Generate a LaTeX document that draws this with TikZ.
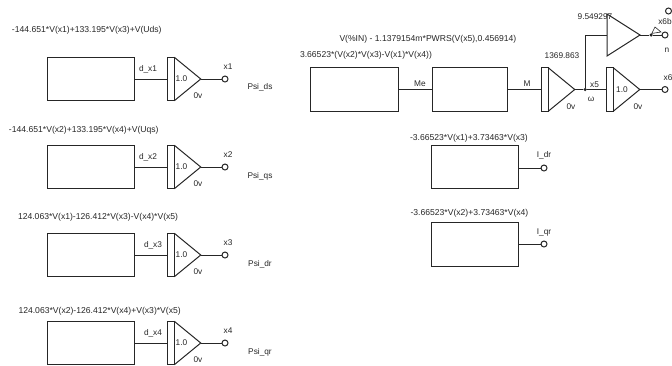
\documentclass[tikz,border=0pt]{standalone}
\usepackage{fontspec}
\setmainfont{Liberation Sans}
\usetikzlibrary{calc}
\definecolor{ink}{HTML}{262626}
\tikzset{
  wire/.style={draw=ink,line width=1pt},
  blockbox/.style={draw=ink,line width=1pt,minimum width=#1,minimum height=43.5pt,inner sep=0pt,outer sep=0pt},
  intbar/.style={draw=ink,line width=1pt,minimum width=6.5pt,minimum height=43.5pt,inner sep=0pt,outer sep=0pt},
  termpin/.style={circle,draw=ink,line width=1pt,fill=white,minimum size=6pt,inner sep=0pt,outer sep=0pt},
  dotnode/.style={circle,fill=ink,minimum size=3.5pt,inner sep=0pt,outer sep=0pt},
  lbl/.style={font=\fontsize{8.6pt}{10pt}\selectfont,text=ink,inner sep=0pt,outer sep=0pt},
  gainlbl/.style={lbl,font=\fontsize{8.3pt}{10pt}\selectfont}
}
% name, bar-centre x, centre y
\newcommand{\intamp}[3]{%
  \node[intbar] (#1bar) at (#2,#3) {};
  \coordinate (#1tip) at ($(#1bar.east)+(26.5,0)$);
  \draw[wire,line join=miter] (#1bar.north east) -- (#1tip) -- (#1bar.south east);
}
\begin{document}
\begin{tikzpicture}[x=1pt,y=-1pt]
\useasboundingbox (0,0) rectangle (672,365);
% left column
\node[blockbox=87pt] (box1) at (90.5,79) {};
\node[blockbox=87pt] (box2) at (90.5,167) {};
\node[blockbox=87pt] (box3) at (90.5,255) {};
\node[blockbox=87pt] (box4) at (90.5,343) {};
\foreach \i/\yy/\psiy/\psin/\dx in {1/79/87/Psi\_ds/148,2/167/176/Psi\_qs/148,3/255/264/Psi\_dr/153,4/343/352/Psi\_qr/153}{
  \intamp{a\i}{171}{\yy}
  \draw[wire] (box\i.east) -- (a\i bar.west);
  \node[termpin] (pin\i) at (225,\yy) {};
  \draw[wire] (a\i tip) -- (pin\i.west);
  \node[gainlbl] (gain\i) at (181.5,\yy) {1.0};
  \node[gainlbl] (zero\i) at (198,\yy+17) {0v};
  \node[gainlbl] (dl\i) at (\dx,\yy-10) {d\_x\i};
  \node[gainlbl] (xl\i) at (228,\yy-12) {x\i};
  \node[gainlbl] (psi\i) at (260,\psiy) {\psin};
}
\node[lbl,anchor=west] (f1) at (12,30) {-144.651*V(x1)+133.195*V(x3)+V(Uds)};
\node[lbl,anchor=west] (f2) at (9,130.5) {-144.651*V(x2)+133.195*V(x4)+V(Uqs)};
\node[lbl,anchor=west] (f3) at (18,217) {124.063*V(x1)-126.412*V(x3)-V(x4)*V(x5)};
\node[lbl,anchor=west] (f4) at (18.5,311) {124.063*V(x2)-126.412*V(x4)+V(x3)*V(x5)};
% right top chain
\node[blockbox=88pt] (me) at (354,89.5) {};
\node[blockbox=75pt] (mm) at (469.5,89.5) {};
\draw[wire] (me.east) -- (mm.west);
\node[gainlbl] (melbl) at (420,84) {Me};
\intamp{w}{545}{89.5}
\draw[wire] (mm.east) -- (wbar.west);
\node[gainlbl] (mlbl) at (527,84) {M};
\node[dotnode] (j5) at (585,89.5) {};
\draw[wire] (wtip) -- (j5);
\intamp{v}{610}{89.5}
\draw[wire] (j5) -- (vbar.west);
\node[termpin] (pin6) at (665,89.5) {};
\draw[wire] (vtip) -- (pin6.west);
% upper gain amplifier
\coordinate (gin) at (607,35);
\coordinate (gtop) at (607,14);
\coordinate (gbot) at (607,56);
\coordinate (gtip) at (640,35);
\draw[wire] (gtop) -- (gtip) -- (gbot) -- cycle;
\draw[wire] (j5) |- (gin);
\node[dotnode] (j6) at (651,35) {};
\draw[wire] (gtip) -- (j6);
\node[termpin] (pinn) at (665,35) {};
\draw[wire] (j6) -- (pinn.west);
\coordinate (sa) at (655,27);
\coordinate (sb) at (661,32);
\draw[wire,line width=0.6pt] (j6) -- (sa) -- (sb) -- cycle;
\node[termpin] (pinb) at (668.5,11) {};
% right labels
\node[lbl,anchor=west] (f5) at (339.5,39) {V(\%IN) - 1.1379154m*PWRS(V(x5),0.456914)};
\node[lbl,anchor=west] (f6) at (300,55) {3.66523*(V(x2)*V(x3)-V(x1)*V(x4))};
\node[gainlbl] (g1) at (562,56) {1369.863};
\node[gainlbl] (g2) at (595,17) {9.549297};
\node[gainlbl] (z5) at (571,107) {0v};
\node[gainlbl] (z6) at (638,107) {0v};
\node[gainlbl] (one) at (622,89.5) {1.0};
\node[gainlbl] (x5l) at (594.5,85) {x5};
\node[gainlbl] (wl) at (591,99) {ω};
\node[gainlbl] (x6l) at (668,78) {x6};
\node[gainlbl] (nl) at (667,50) {n};
\node[gainlbl] (x6b) at (665,22) {x6b};
% current blocks
\node[blockbox=87pt] (idr) at (475,167) {};
\node[blockbox=87pt] (iqr) at (475,244.5) {};
\node[termpin] (pindr) at (544,168) {};
\node[termpin] (pinqr) at (544,244) {};
\draw[wire] (idr.east |- pindr) -- (pindr.west);
\draw[wire] (iqr.east |- pinqr) -- (pinqr.west);
\node[gainlbl] (idl) at (544,155) {I\_dr};
\node[gainlbl] (iql) at (544,232) {I\_qr};
\node[lbl,anchor=west] (f7) at (410,138.5) {-3.66523*V(x1)+3.73463*V(x3)};
\node[lbl,anchor=west] (f8) at (410.5,213) {-3.66523*V(x2)+3.73463*V(x4)};
\end{tikzpicture}
\end{document}
